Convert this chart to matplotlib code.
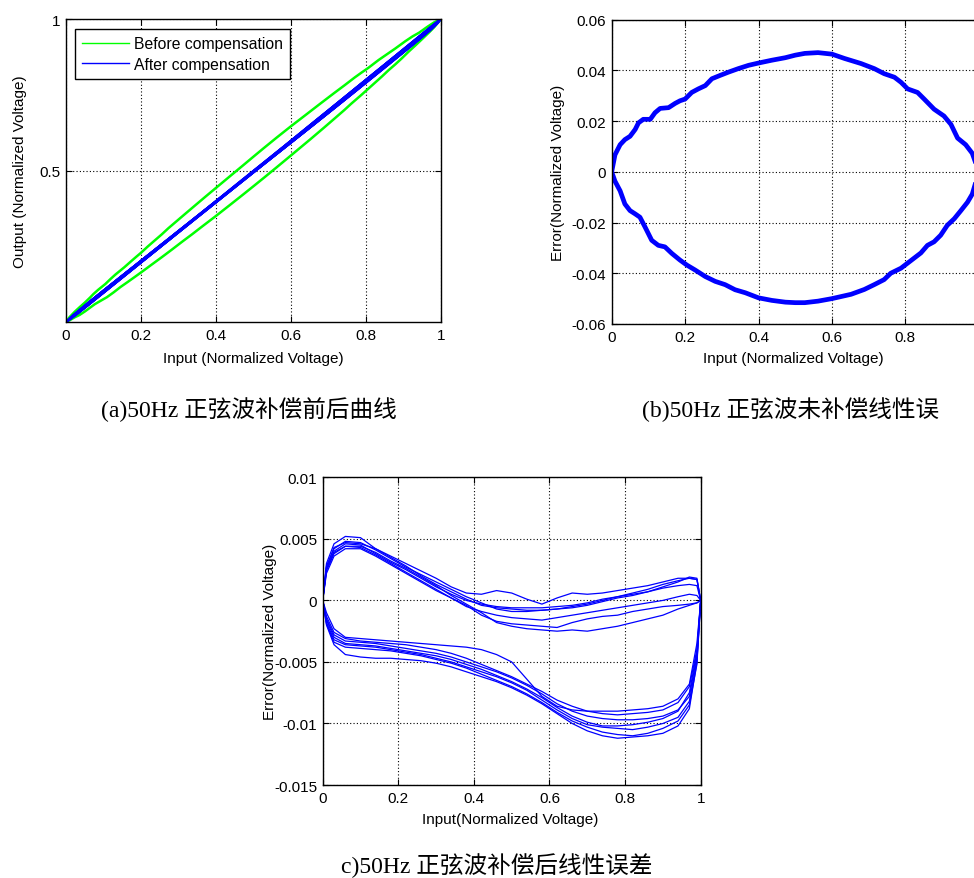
import numpy as np
import matplotlib
matplotlib.use('Agg')
import matplotlib.pyplot as plt

plt.rcParams['font.family'] = ['Liberation Sans', 'DejaVu Sans']
plt.rcParams['font.size'] = 11

#(b) error before compensation, one rising and one falling branch (x1e-3)
bUpX = [0, .009, .023, .036, .05, .064, .073, .086, .105, .118, .132, .155, .173, .186, .2, .218, .236, .255,
        .273, .295, .318, .345, .373, .4, .436, .473, .5, .526, .562, .6, .634, .679, .715, .742, .77, .788,
        .806, .833, .851, .878, .905, .924, .942, .964, .982, 1.0]
bUpY = [0, 6.7, 10.7, 12.7, 14.0, 16.7, 19.3, 20.7, 20.7, 23.3, 25.0, 25.3, 27.0, 28.0, 28.7, 31.3, 32.7, 34.0,
        36.7, 38.0, 39.3, 40.7, 42.0, 42.9, 44.0, 45.0, 46.0, 46.7, 47.0, 46.4, 44.7, 42.7, 40.7, 38.7, 37.3, 35.3,
        32.7, 31.3, 28.7, 24.7, 22.0, 18.7, 13.3, 10.7, 7.3, 0.0]
bLoX = [0, .009, .023, .036, .05, .064, .077, .091, .109, .127, .145, .164, .186, .205, .227, .255, .282, .309,
        .336, .364, .4, .436, .473, .5, .526, .562, .6, .652, .688, .715, .742, .76, .788, .806, .824, .842, .86,
        .878, .896, .914, .933, .951, .969, .982, 1.0]
bLoY = [0, -3.7, -7.5, -12.7, -15.3, -16.6, -17.9, -21.8, -27.0, -29.0, -29.6, -32.2, -34.8, -36.8, -38.7, -41.3,
        -43.2, -44.5, -46.5, -47.7, -49.7, -50.7, -51.4, -51.6, -51.6, -51.0, -50.0, -48.3, -46.4, -44.5, -42.5,
        -40.0, -38.0, -36.0, -34.0, -32.0, -29.0, -27.6, -25.0, -21.1, -18.5, -15.3, -12.0, -8.8, 0]

#(c) error after compensation, several cycles (x1e-3)
cX = [0, .01, .03, .06, .1, .14, .18, .22, .26, .3, .34, .38, .42, .46, .5, .54, .58, .62, .66, .7, .74, .78,
      .82, .86, .9, .94, .97, .99, 1]
cUp = [
    [0, 2.6, 4.0, 4.6, 4.5, 3.8, 3.1, 2.5, 1.8, 1.1, 0.5, 0.0, -0.3, -0.5, -0.6, -0.6, -0.6, -0.5, -0.4, -0.2, 0.1, 0.3, 0.6, 0.9, 1.3, 1.6, 1.8, 1.7, 0],
    [0, 3.0, 4.6, 5.2, 5.1, 4.2, 3.6, 3.0, 2.4, 1.8, 1.1, 0.6, 0.5, 0.8, 0.6, 0.1, -0.3, 0.2, 0.6, 0.5, 0.6, 0.8, 1.0, 1.2, 1.5, 1.8, 1.8, 1.7, 0],
    [0, 2.2, 3.6, 4.2, 4.2, 3.6, 2.9, 2.2, 1.5, 0.8, 0.2, -0.4, -1.2, -1.7, -1.9, -2.0, -2.1, -2.2, -1.8, -1.5, -1.3, -1.2, -0.9, -0.7, -0.5, -0.4, -0.3, -0.2, 0],
    [0, 2.4, 3.8, 4.4, 4.4, 3.9, 3.2, 2.6, 1.9, 1.2, 0.4, -0.3, -1.0, -1.8, -2.1, -2.3, -2.4, -2.5, -2.4, -2.5, -2.3, -2.1, -1.8, -1.5, -1.2, -0.7, -0.4, -0.2, 0],
    [0, 2.8, 4.2, 4.8, 4.7, 4.1, 3.4, 2.7, 2.1, 1.5, 0.9, 0.3, -0.2, -0.7, -0.9, -0.9, -0.8, -0.7, -0.5, -0.3, 0.0, 0.3, 0.5, 0.7, 1.0, 1.2, 1.3, 1.2, 0],
    [0, 2.5, 3.9, 4.4, 4.3, 3.7, 3.0, 2.3, 1.6, 0.9, 0.2, -0.5, -0.9, -1.2, -1.4, -1.5, -1.6, -1.4, -1.2, -1.0, -0.8, -0.6, -0.4, -0.2, 0.0, 0.3, 0.5, 0.4, 0],
    [0, 2.7, 4.3, 4.7, 4.6, 4.2, 3.5, 2.8, 2.0, 1.3, 0.7, 0.1, -0.4, -0.6, -0.7, -0.8, -0.8, -0.7, -0.6, -0.4, -0.1, 0.2, 0.4, 0.7, 1.1, 1.5, 1.9, 1.8, 0],
]
cLo = [
    [0, -1.5, -2.8, -3.3, -3.4, -3.5, -3.7, -3.9, -4.1, -4.3, -4.6, -5.0, -5.4, -5.8, -6.3, -6.9, -7.6, -8.4, -9.0, -9.4, -9.6, -9.7, -9.7, -9.6, -9.4, -8.9, -7.8, -4.5, 0],
    [0, -1.0, -2.3, -3.0, -3.1, -3.2, -3.3, -3.4, -3.5, -3.6, -3.7, -3.8, -4.0, -4.4, -5.0, -6.4, -7.8, -8.6, -8.9, -9.0, -9.0, -9.0, -8.9, -8.8, -8.6, -8.0, -6.8, -3.5, 0],
    [0, -2.0, -3.6, -4.4, -4.6, -4.7, -4.7, -4.8, -4.9, -5.1, -5.4, -5.8, -6.2, -6.6, -7.1, -7.7, -8.4, -9.2, -10.0, -10.6, -11.0, -11.2, -11.1, -11.0, -10.8, -10.2, -8.8, -5.0, 0],
    [0, -1.8, -3.2, -3.6, -3.7, -3.8, -4.0, -4.2, -4.4, -4.7, -5.0, -5.4, -5.8, -6.2, -6.7, -7.3, -8.1, -8.9, -9.6, -10.1, -10.3, -10.4, -10.5, -10.3, -10.0, -9.5, -8.2, -4.8, 0],
    [0, -1.3, -2.6, -3.1, -3.3, -3.4, -3.5, -3.6, -3.8, -4.0, -4.3, -4.7, -5.2, -5.7, -6.2, -6.8, -7.4, -8.1, -8.6, -9.0, -9.2, -9.3, -9.2, -9.1, -8.9, -8.3, -7.0, -4.0, 0],
    [0, -1.6, -3.0, -3.5, -3.6, -3.7, -3.9, -4.1, -4.3, -4.5, -4.8, -5.2, -5.6, -6.1, -6.6, -7.2, -7.9, -8.7, -9.4, -9.9, -10.2, -10.2, -10.1, -9.9, -9.6, -9.0, -7.5, -4.2, 0],
    [0, -1.9, -3.4, -3.8, -3.9, -4.0, -4.1, -4.3, -4.5, -4.8, -5.1, -5.5, -6.0, -6.5, -7.0, -7.6, -8.3, -9.1, -9.8, -10.3, -10.7, -10.9, -11.0, -10.8, -10.4, -9.8, -8.5, -5.2, 0],
]

xTicks = [0, 0.2, 0.4, 0.6, 0.8, 1]
xTickLabels = ['0', '0.2', '0.4', '0.6', '0.8', '1']
aYTicks = [0.5, 1]
aYTickLabels = ['0.5', '1']
bYTicks = [-0.06, -0.04, -0.02, 0, 0.02, 0.04, 0.06]
bYTickLabels = ['-0.06', '-0.04', '-0.02', '0', '0.02', '0.04', '0.06']
cYTicks = [-0.015, -0.01, -0.005, 0, 0.005, 0.01]
cYTickLabels = ['-0.015', '-0.01', '-0.005', '0', '0.005', '0.01']

captions = ['(a)50Hz 正弦波补偿前后曲线', '(b)50Hz 正弦波未补偿线性误', 'c)50Hz 正弦波补偿后线性误差']

green = '#00ff00'
blue = '#0000ff'
capFont = ['Liberation Serif', 'Noto Sans CJK SC']


def styleAxes(ax):
    ax.grid(True, color='black', linestyle=(0, (1, 2)), linewidth=0.8)
    ax.tick_params(direction='in', top=True, right=True, length=4, width=0.8, labelsize=11, pad=4)
    for s in ax.spines.values():
        s.set_linewidth(1.0)
        s.set_color('black')


fig = plt.figure(figsize=(9.74, 8.79), dpi=100)

#(a) output vs input
axA = fig.add_axes([0.0678, 0.6325, 0.385, 0.3447])
bUpX = np.array(bUpX)
bLoX = np.array(bLoX)
axA.plot(bUpX, bUpX + np.array(bUpY) * 1e-3, color=green, linewidth=1.8, label='Before compensation')
axA.plot(bLoX, bLoX + np.array(bLoY) * 1e-3, color=green, linewidth=1.8)
cXa = np.array(cX)
for i, tr in enumerate(cUp):
    axA.plot(cXa, cXa + np.array(tr) * 1e-3, color=blue, linewidth=1.2,
             label='After compensation' if i == 0 else None)
for tr in cLo:
    axA.plot(cXa, cXa + np.array(tr) * 1e-3, color=blue, linewidth=1.2)
axA.set_xlim(0, 1)
axA.set_ylim(0, 1)
axA.set_xticks(xTicks)
axA.set_xticklabels(xTickLabels)
axA.set_yticks(aYTicks)
axA.set_yticklabels(aYTickLabels)
styleAxes(axA)
axA.set_xlabel('Input (Normalized Voltage)')
axA.set_ylabel('Output (Normalized Voltage)')
axA.xaxis.set_label_coords(0.5, -0.094)
axA.yaxis.set_label_coords(-0.105, 0.5)
leg = axA.legend(loc='upper left', bbox_to_anchor=(0.024, 0.967), fancybox=False, framealpha=1,
                 edgecolor='black', handlelength=3.0, borderaxespad=0, fontsize=11.3,
                 borderpad=0.45, labelspacing=0.35, handletextpad=0.3)
leg.get_frame().set_linewidth(1.0)
for ln in leg.get_lines():
    ln.set_linewidth(1.0)

#(b) error before compensation, the x=1 label falls outside the picture
axB = fig.add_axes([0.628, 0.6303, 0.377, 0.3462])
axB.plot(bUpX, np.array(bUpY) * 1e-3, color=blue, linewidth=3.4)
axB.plot(bLoX, np.array(bLoY) * 1e-3, color=blue, linewidth=3.4)
axB.set_xlim(0, 1)
axB.set_ylim(-0.06, 0.06)
axB.set_xticks(xTicks[:-1])
axB.set_xticklabels(xTickLabels[:-1])
axB.set_yticks(bYTicks)
axB.set_yticklabels(bYTickLabels)
styleAxes(axB)
axB.set_xlabel('Input (Normalized Voltage)')
axB.set_ylabel('Error(Normalized Voltage)')
axB.xaxis.set_label_coords(0.494, -0.09)
axB.yaxis.set_label_coords(-0.128, 0.5)

#(c) error after compensation
axC = fig.add_axes([0.3313, 0.1058, 0.3881, 0.35])
for tr in cUp:
    axC.plot(cX, np.array(tr) * 1e-3, color=blue, linewidth=0.9)
for tr in cLo:
    axC.plot(cX, np.array(tr) * 1e-3, color=blue, linewidth=0.9)
axC.set_xlim(0, 1)
axC.set_ylim(-0.015, 0.01)
axC.set_xticks(xTicks)
axC.set_xticklabels(xTickLabels)
axC.set_yticks(cYTicks)
axC.set_yticklabels(cYTickLabels)
styleAxes(axC)
axC.set_xlabel('Input(Normalized Voltage)')
axC.set_ylabel('Error(Normalized Voltage)')
axC.xaxis.set_label_coords(0.495, -0.088)
axC.yaxis.set_label_coords(-0.122, 0.5)

#captions
fig.text(249 / 974, 1 - 410 / 879, captions[0], ha='center', va='center', fontsize=17, family=capFont)
fig.text(791 / 974, 1 - 410 / 879, captions[1], ha='center', va='center', fontsize=17, family=capFont)
fig.text(497 / 974, 1 - 866 / 879, captions[2], ha='center', va='center', fontsize=17, family=capFont)

fig.savefig('out.png', dpi=100)
